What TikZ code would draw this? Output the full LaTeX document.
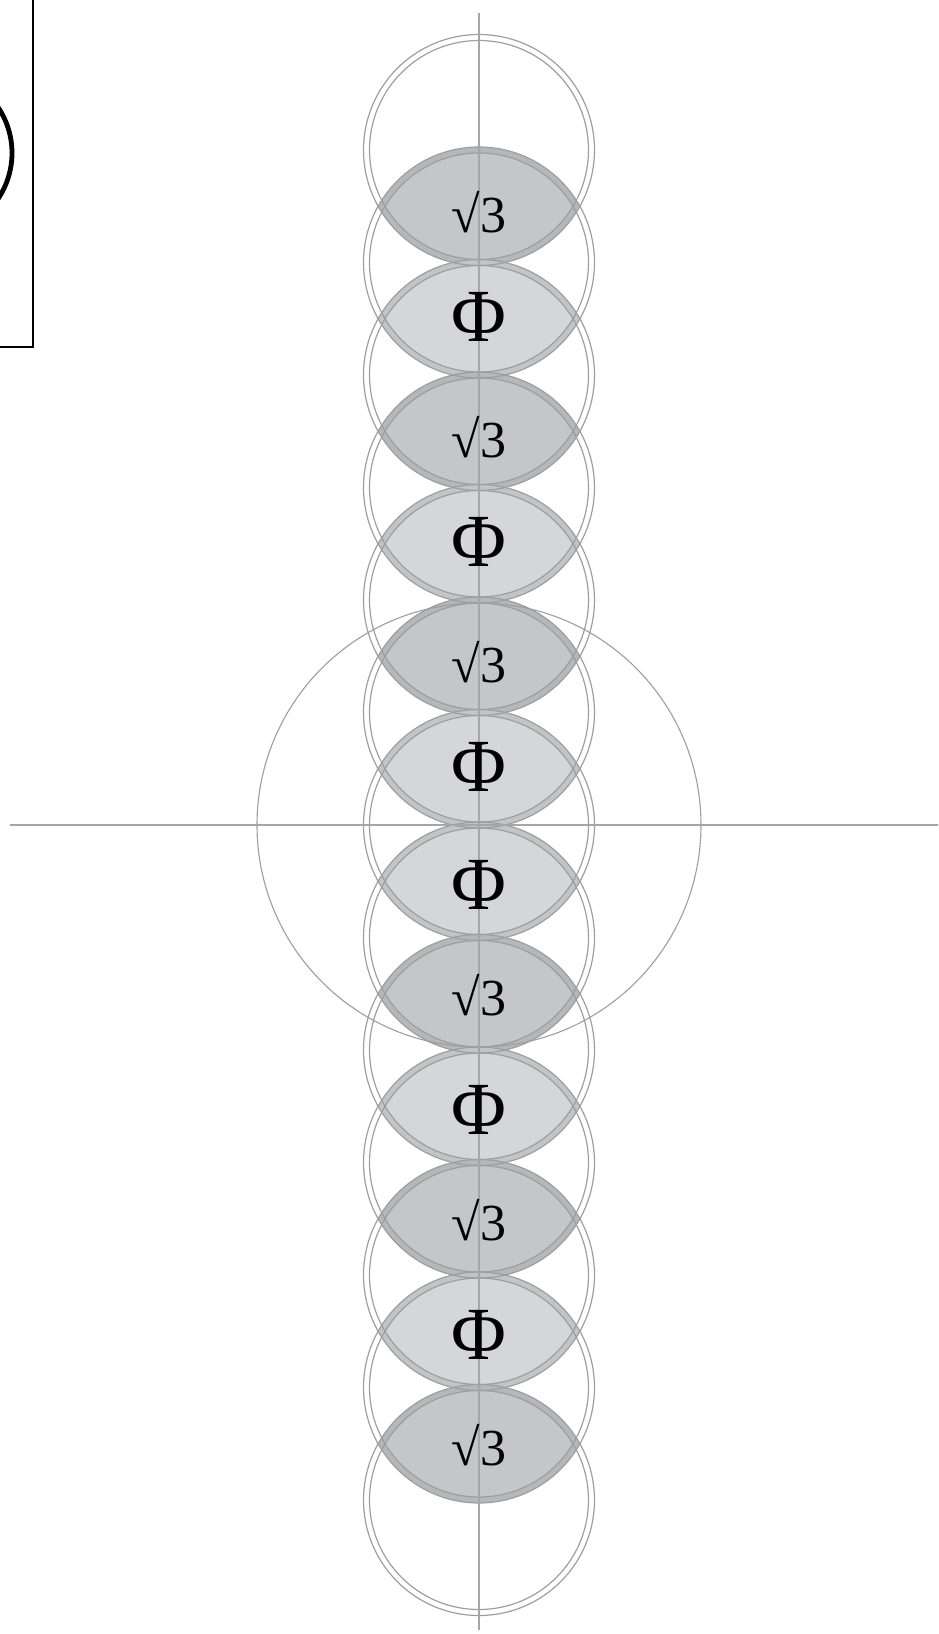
\documentclass[tikz,border=0pt]{standalone}
\usepackage{fontspec}
\setmainfont{Liberation Serif}
\definecolor{ringgray}{HTML}{9E9E9E}
\definecolor{sqband}{HTML}{B6B7BA}
\definecolor{phband}{HTML}{C3C4C6}
\definecolor{sqfill}{HTML}{C5C6C9}
\definecolor{phfill}{HTML}{D5D6D7}
\definecolor{axisgray}{HTML}{A6A6A6}
\tikzset{
  ringline/.style={draw=ringgray, line width=1.2pt},
  axisline/.style={draw=axisgray, line width=1.5pt},
  bigring/.style={draw=ringgray, line width=1.1pt},
  sqlab/.style={inner sep=0pt, text=black, font=\fontsize{52}{52}\selectfont},
  phlab/.style={inner sep=0pt, text=black, font=\fontsize{75}{75}\selectfont},
}
\begin{document}
\begin{tikzpicture}[x=1pt,y=-1pt]
\useasboundingbox (0,0) rectangle (938,1634);
\clip (0,0) rectangle (938,1634);
% top-left fragment
\draw[black, line width=1.4pt] (-20,-20) -- (33,-20) -- (33,347) -- (-20,347);
\draw[black, line width=4.8pt] (-70,153) circle[radius=82pt];
% lenses
\foreach \k/\c/\b in {0/sqfill/sqband,1/phfill/phband,2/sqfill/sqband,3/phfill/phband,4/sqfill/sqband,5/phfill/phband,6/phfill/phband,7/sqfill/sqband,8/phfill/phband,9/sqfill/sqband,10/phfill/phband,11/sqfill/sqband}{
  \pgfmathsetmacro{\ya}{825+(\k-6)*112.5}
  \pgfmathsetmacro{\yb}{825+(\k-5)*112.5}
  \begin{scope}
    \clip (479,\ya) circle[radius=115.5pt];
    \fill[\b] (479,\yb) circle[radius=115.5pt];
  \end{scope}
  \begin{scope}
    \clip (479,\ya) circle[radius=109.5pt];
    \fill[\c] (479,\yb) circle[radius=109.5pt];
  \end{scope}
}
% chain of double circles
\foreach \i in {0,...,12}{
  \pgfmathsetmacro{\yc}{825+(\i-6)*112.5}
  \draw[ringline] (479,\yc) circle[radius=115.5pt];
  \draw[ringline] (479,\yc) circle[radius=109.5pt];
}
% big circle
\draw[bigring] (479,825) circle[radius=222pt];
% axes
\coordinate (vtop) at (479,13);
\coordinate (vbot) at (479,1630);
\coordinate (hl) at (10,825);
\coordinate (hr) at (945,825);
\draw[axisline] (vtop) -- (vbot);
\draw[axisline] (hl) -- (hr);
% labels
\foreach \k/\s/\t/\dy in {0/sqlab/√3/6,1/phlab/Φ/-2,2/sqlab/√3/6,3/phlab/Φ/-2,4/sqlab/√3/6,5/phlab/Φ/-2,6/phlab/Φ/4,7/sqlab/√3/1,8/phlab/Φ/4,9/sqlab/√3/1,10/phlab/Φ/4,11/sqlab/√3/1}{
  \pgfmathsetmacro{\ym}{825+(\k-5.5)*112.5+\dy}
  \node[\s] (lab\k) at (479,\ym) {\t};
}
\end{tikzpicture}
\end{document}
